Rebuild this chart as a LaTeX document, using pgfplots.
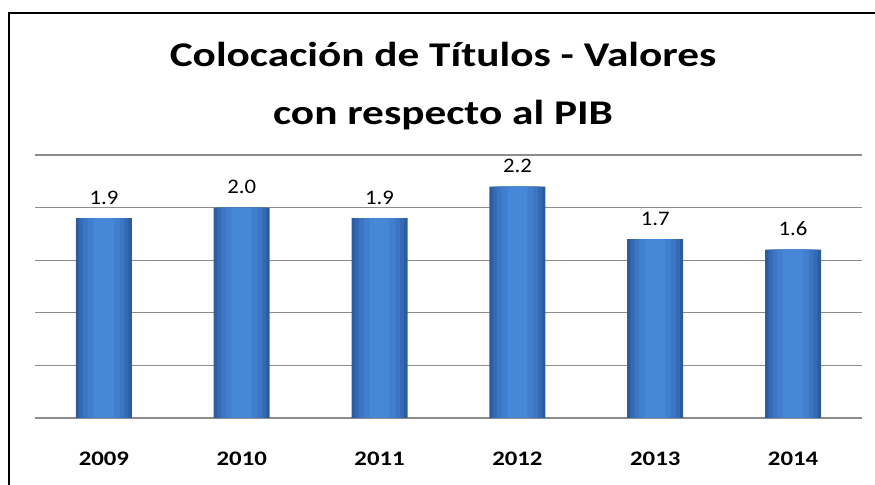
\documentclass[border=0pt]{standalone}
\usepackage{pgfplots}
\pgfplotsset{compat=1.18}
\usepackage{fontspec}
\setmainfont{Carlito}
\newfontfamily\titlefont[FakeStretch=1.25]{Carlito}
\newfontfamily\tickfont[FakeStretch=1.2]{Carlito}
\newfontfamily\valfont[FakeStretch=1.1]{Carlito}
\definecolor{bar1}{HTML}{2C5C9E}
\definecolor{bar2}{HTML}{3469B3}
\definecolor{bar3}{HTML}{3B75C3}
\definecolor{bar4}{HTML}{417ECE}
\definecolor{bar5}{HTML}{4787D8}
\definecolor{gridgray}{HTML}{8C8C8C}
\pgfplotstableread{
x y
0 1.9
1 2.0
2 1.9
3 2.2
4 1.7
5 1.6
}\datatable
\begin{document}
\begin{tikzpicture}[x=0.75pt,y=0.75pt]
\useasboundingbox (0,0) rectangle (875,485);
\draw[line width=2pt,black] (9,-20) rectangle (895,472);
\node[anchor=base,font=\titlefont\bfseries\fontsize{26}{30}\selectfont] at (443,418) {Colocación de Títulos - Valores};
\node[anchor=base,font=\titlefont\bfseries\fontsize{26}{30}\selectfont] at (443,360) {con respecto al PIB};
\begin{axis}[
  at={(35*0.75pt,67*0.75pt)}, anchor=south west,
  scale only axis,
  width=827*0.75pt, height=263*0.75pt,
  xmin=-0.5, xmax=5.5, ymin=0, ymax=2.5,
  axis x line*=bottom, axis y line*=left,
  x axis line style={draw=gridgray,line width=1.6pt},
  y axis line style={draw=none},
  ytick={0,0.5,...,2.5}, yticklabels={}, ytick style={draw=none},
  ymajorgrids, grid style={draw=gridgray,line width=0.9pt},
  xtick={0,1,2,3,4,5},
  xticklabels={2009,2010,2011,2012,2013,2014},
  xtick style={draw=none},
  xticklabel style={font=\tickfont\bfseries\fontsize{15.5}{18}\selectfont, anchor=base, inner sep=0pt, yshift=-31.5pt},
  ybar, bar shift=0pt,
  nodes near coords style={font=\valfont\fontsize{15.5}{18}\selectfont, anchor=base, inner sep=0pt, yshift=10.5pt, /pgf/number format/fixed, /pgf/number format/fixed zerofill, /pgf/number format/precision=1, /pgf/number format/assume math mode=true},
  clip=false,
]
\addplot[draw=none, fill=bar1, bar width=42pt] table[x=x,y=y] {\datatable};
\addplot[draw=none, fill=bar2, bar width=37pt] table[x=x,y=y] {\datatable};
\addplot[draw=none, fill=bar3, bar width=31pt] table[x=x,y=y] {\datatable};
\addplot[draw=none, fill=bar4, bar width=24pt] table[x=x,y=y] {\datatable};
\addplot[draw=none, fill=bar5, bar width=15pt, nodes near coords] table[x=x,y=y] {\datatable};
\end{axis}
\end{tikzpicture}
\end{document}
